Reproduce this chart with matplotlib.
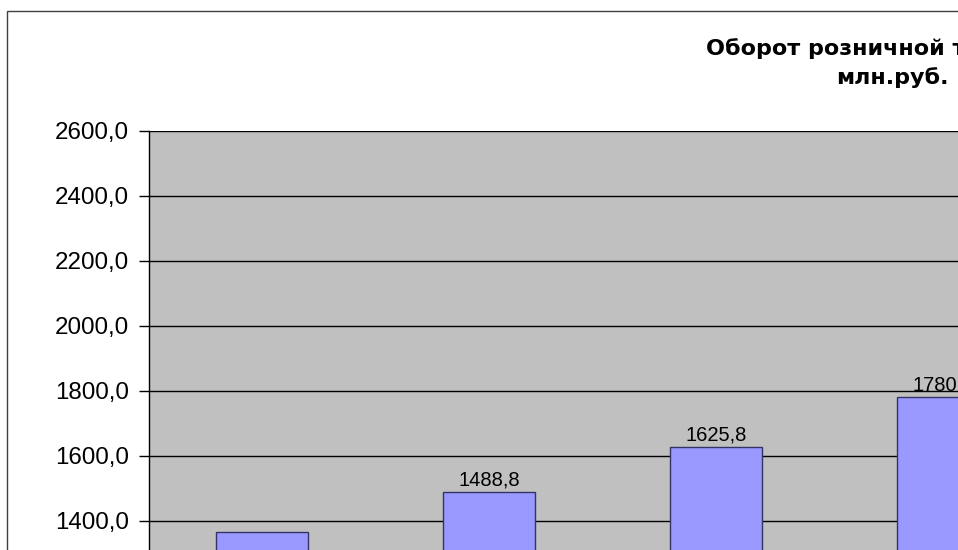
import matplotlib
matplotlib.use("Agg")
import matplotlib.pyplot as plt
from matplotlib.patches import Rectangle
import numpy as np

plt.rcParams['font.family'] = ['Liberation Sans', 'DejaVu Sans']

# data
values = [1364.3, 1488.8, 1625.8, 1780.5]
labels = ["", "1488,8", "1625,8", "1780,5"]
yticks = [1400, 1600, 1800, 2000, 2200, 2400, 2600]
title_l1 = "Оборот розничной торговли,"
title_l2 = "млн.руб."

W, H = 958, 550
fig = plt.figure(figsize=(W / 100, H / 100), dpi=100)
fig.patch.set_facecolor('white')

def fx(px):
    return px / W

def fy(py):
    return 1 - py / H

# chart border
fig.patches.append(Rectangle((fx(7), fy(1200)), fx(2000), fy(11) - fy(1200),
                             transform=fig.transFigure, fill=False,
                             edgecolor='#404040', linewidth=1.0))

# axes: left 148.5, top 130.7, 0.325 px per unit, step 226.9 px per category
ymin, ymax = 1000, 2600
step = 226.9
ppu = 0.325
left, top = 148.5, 130.7
n = len(values)
wpx = step * n
hpx = (ymax - ymin) * ppu
ax = fig.add_axes([fx(left), fy(top + hpx), wpx / W, hpx / H])
ax.set_facecolor('#C0C0C0')
ax.set_xlim(-0.5, n - 0.5)
ax.set_ylim(ymin, ymax)
ax.set_yticks(yticks)
ax.set_yticklabels([f"{v:.1f}".replace('.', ',') for v in yticks], fontsize=17.4)
ax.tick_params(axis='y', direction='out', length=7.2, width=1, pad=7, colors='black')
ax.set_xticks([])
ax.yaxis.grid(True, color='black', linewidth=1)
ax.set_axisbelow(True)
for s in ['top', 'right', 'bottom']:
    ax.spines[s].set_visible(False)
ax.spines['left'].set_color('black')
ax.spines['left'].set_linewidth(1)

x = np.arange(n)
bars = ax.bar(x, values, width=92 / step, color='#9999FF', edgecolor='#333366',
              linewidth=1, zorder=3)
for xi, v, lab in zip(x, values, labels):
    if lab:
        ax.annotate(lab, (xi, v), xytext=(0, 2), textcoords='offset points',
                    ha='center', va='bottom', fontsize=14.5, zorder=4)

fig.text(fx(892), fy(55), title_l1, ha='center', va='baseline',
         fontsize=16, fontweight='bold', family=['DejaVu Sans'])
fig.text(fx(892), fy(84), title_l2, ha='center', va='baseline',
         fontsize=16, fontweight='bold', family=['DejaVu Sans'])

fig.savefig('out.png', dpi=100)
